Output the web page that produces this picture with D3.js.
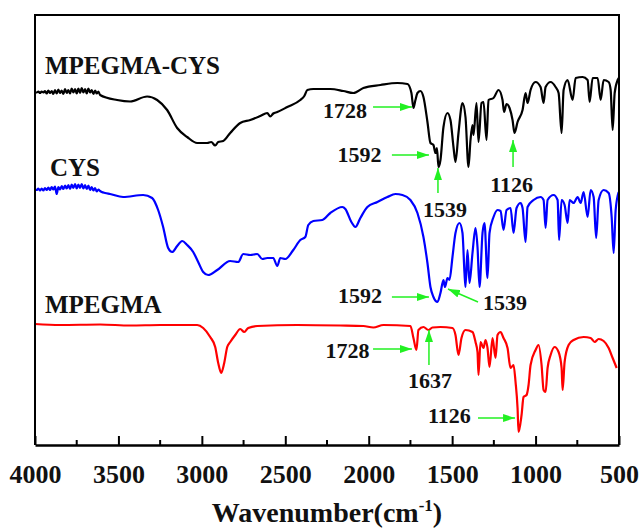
<!DOCTYPE html>
<html>
<head>
<meta charset="utf-8">
<script src="https://cdn.jsdelivr.net/npm/d3@7"></script>
<style>
  html, body { margin: 0; padding: 0; background: #fff; }
  svg { display: block; }
  text { font-family: "Liberation Serif", "Times New Roman", serif; font-weight: bold; fill: #111; }
</style>
</head>
<body>
<svg id="chart" width="640" height="528"></svg>
<script>
// FTIR spectra: wavenumber (cm-1) and transmittance (a.u., offset per trace)
const wnCysPeg = [4000,3990,3980,3970,3960,3950,3940,3930,3920,3910,3900,3890,3880,3870,3860,3850,3840,3830,3820,3810,3800,3790,3780,3770,3760,3750,3740,3730,3720,3710,3700,3690,3680,3670,3660,3650,3640,3630,3620,3610,3508,3430,3328,3268,3208,3148,3088,3028,2968,2944,2920,2902,2872,2830,2770,2710,2650,2608,2590,2572,2548,2488,2410,2386,2368,2332,2230,2152,2092,2032,1930,1828,1768,1744,1732,1720,1708,1690,1672,1648,1630,1612,1600,1591,1582,1570,1552,1528,1510,1492,1480,1462,1438,1420,1402,1390,1378,1372,1354,1342,1324,1312,1294,1282,1252,1222,1198,1189,1174,1156,1138,1126,1108,1078,1060,1048,1030,1000,970,952,940,910,880,862,844,832,808,778,760,718,688,676,658,628,610,592,562,550,538,526,508,502];
const tCysPeg = [70.5,70.5,70.7,70.4,70.7,70.5,70.8,70.3,70.9,70.4,70.8,70.2,71.0,70.3,71.1,70.4,70.9,70.2,71.2,70.4,71.0,70.3,71.3,70.5,71.2,70.3,71.3,70.4,71.4,70.5,71.2,70.3,71.3,70.5,71.0,70.2,70.9,70.3,70.7,70.0,69.0,68.7,69.7,69.0,67.0,63.4,61.6,60.4,60.4,60.6,59.9,60.6,60.8,62.4,64.4,65.0,65.8,66.4,65.7,66.3,66.6,67.6,69.0,69.8,71.0,71.2,71.2,70.8,70.4,71.4,72.0,72.4,72.2,70.4,67.4,69.0,70.4,70.8,69.6,64.6,60.4,60.0,58.4,59.4,55.6,57.0,63.6,66.4,65.0,59.6,56.6,62.4,68.4,65.6,55.6,61.0,64.0,62.0,68.4,60.6,68.4,68.6,61.0,69.0,69.4,71.0,69.0,66.6,68.2,67.4,65.0,62.4,64.6,67.0,70.4,68.4,71.0,72.6,71.6,68.4,71.6,72.6,71.6,70.4,62.4,71.0,73.0,69.0,73.4,73.6,73.0,68.6,73.4,73.4,69.0,73.0,72.6,71.0,63.0,70.4,73.0,73.4];

const wnCys = [4000,3990,3980,3970,3960,3950,3940,3930,3920,3910,3900,3890,3880,3870,3860,3850,3840,3830,3820,3810,3800,3790,3780,3770,3760,3750,3740,3730,3720,3710,3700,3690,3680,3670,3660,3650,3640,3630,3620,3610,3600,3580,3550,3472,3352,3298,3262,3232,3202,3178,3148,3118,3088,3052,3022,2992,2962,2908,2830,2782,2752,2710,2668,2638,2608,2572,2548,2530,2500,2452,2410,2380,2362,2332,2278,2230,2158,2140,2104,2080,2050,2008,1948,1888,1840,1798,1750,1708,1672,1648,1630,1612,1588,1570,1552,1543,1528,1516,1498,1480,1456,1438,1426,1420,1408,1396,1378,1360,1348,1336,1318,1306,1288,1276,1252,1228,1210,1192,1174,1150,1132,1114,1090,1078,1060,1048,1012,970,952,940,928,892,868,859,844,826,808,796,772,748,730,712,688,670,652,637,622,592,562,544,532,520,502];
const tCys = [51.0,51.0,51.3,50.9,51.3,50.9,51.4,51.0,51.5,51.0,51.6,51.1,51.7,50.2,51.6,51.1,51.8,51.2,51.9,51.3,52.0,51.2,52.1,51.4,52.2,51.3,52.1,51.4,52.2,51.3,52.0,51.2,51.9,51.0,51.6,50.9,51.4,50.7,51.1,50.8,50.6,50.4,50.2,49.6,50.0,49.4,47.0,43.6,39.4,38.6,39.8,40.8,40.0,38.6,36.6,34.6,34.0,35.0,36.8,36.6,38.2,38.0,38.2,37.2,37.4,37.4,35.8,37.4,37.2,39.0,41.0,41.6,44.0,44.8,45.0,46.4,47.6,47.2,44.6,43.6,45.4,47.6,48.6,49.6,50.2,50.0,49.0,46.4,41.6,36.4,31.6,29.6,28.6,30.4,33.0,31.6,33.4,33.0,37.6,42.4,44.4,42.4,34.4,31.6,39.0,32.4,38.4,43.4,39.6,31.6,42.4,44.4,33.4,42.4,45.6,47.0,46.8,43.0,47.0,47.4,42.4,47.4,48.4,47.4,40.6,47.6,49.0,49.6,49.0,43.4,49.0,50.0,49.0,41.0,49.0,48.0,44.4,49.0,48.4,49.6,48.4,50.6,45.6,51.0,49.6,41.4,49.0,51.0,50.4,45.6,38.4,47.0,50.6];

const wnPeg = [4000,3850,3610,3430,3250,3028,2992,2950,2920,2902,2884,2866,2848,2830,2800,2770,2746,2722,2668,2428,2170,2032,1972,1912,1750,1732,1714,1702,1672,1642,1618,1570,1498,1480,1462,1444,1420,1378,1360,1348,1342,1330,1312,1300,1288,1276,1258,1240,1228,1210,1192,1168,1150,1132,1120,1108,1102,1084,1072,1054,1042,1030,1000,982,964,952,940,928,910,886,862,844,838,826,802,772,712,670,646,622,592,562,538,514];
const tPeg = [24.2,24.0,24.1,23.9,24.0,24.0,23.4,21.6,19.6,16.4,14.4,16.4,19.6,20.6,22.0,23.2,22.6,23.4,23.8,24.0,23.9,23.8,23.5,24.0,23.8,21.4,19.0,23.0,23.6,23.0,23.5,23.6,23.4,22.0,18.0,21.4,23.0,22.6,20.6,18.6,14.0,20.6,19.4,21.0,19.4,15.6,21.4,17.4,22.0,22.6,21.4,19.4,15.4,16.0,12.6,7.4,2.6,6.0,9.6,10.0,12.0,16.0,19.0,20.0,16.0,11.0,10.6,15.4,18.0,19.6,18.6,15.4,11.0,16.6,20.0,21.0,21.6,21.4,20.6,21.2,20.8,19.4,17.4,15.4];

const seriesNames = ["MPEGMA-CYS", "CYS", "MPEGMA"];
const seriesColors = ["#000000", "#0000ff", "#ff0000"];
// label anchor (wavenumber, transmittance) for each trace name
const nameWn = [3940, 3910, 3940];
const nameT = [74.2, 53.8, 26.4];

// peak assignments: label, text position, arrow tail and arrow tip (all in data units)
const peakLabels = ["1728", "1592", "1539", "1126", "1592", "1539", "1728", "1637", "1126"];
const peakTextWn = [2142, 2055, 1543, 1144, 2052, 1183, 2127, 1633, 1516];
const peakTextT  = [65.4, 56.6, 45.6, 50.6, 28.4, 27.0, 17.4, 11.4, 4.4];
const arrowFromWn = [1974, 1861, 1585, 1135, 1861, 1345, 1974, 1639, 1345];
const arrowFromT  = [67.6, 58.0, 50.4, 55.6, 29.6, 28.6, 19.2, 16.0, 5.4];
const arrowToWn   = [1741, 1639, 1585, 1135, 1639, 1525, 1741, 1639, 1123];
const arrowToT    = [67.6, 58.0, 55.4, 61.0, 29.6, 31.2, 19.2, 23.0, 5.4];

const xTicks = [4000, 3500, 3000, 2500, 2000, 1500, 1000, 500];
const xMinorTicks = [3750, 3250, 2750, 2250, 1750, 1250, 750];

const svg = d3.select("#chart");
const margin = { left: 35, right: 21, top: 15, bottom: 83 };
const W = 640, H = 528;

const x = d3.scaleLinear().domain([4000, 500]).range([margin.left, W - margin.right]);
const y = d3.scaleLinear().domain([0, 86]).range([H - margin.bottom, margin.top]);

const series = [
  { name: seriesNames[0], wn: wnCysPeg, t: tCysPeg },
  { name: seriesNames[1], wn: wnCys, t: tCys },
  { name: seriesNames[2], wn: wnPeg, t: tPeg }
];

const line = d3.line()
  .x(d => x(d[0]))
  .y(d => y(d[1]))
  .curve(d3.curveMonotoneX);

series.forEach((s, i) => {
  const pts = s.wn.map((w, k) => [w, s.t[k]]);
  svg.append("path")
    .attr("d", line(pts))
    .attr("fill", "none")
    .attr("stroke", seriesColors[i])
    .attr("stroke-width", 2.2)
    .attr("stroke-linejoin", "round");
  svg.append("text")
    .attr("x", x(nameWn[i]))
    .attr("y", y(nameT[i]))
    .attr("font-size", 25)
    .text(s.name);
});

// arrow heads
const green = "#22f022";
svg.append("defs").append("marker")
  .attr("id", "head")
  .attr("viewBox", "0 0 12 8")
  .attr("refX", 12).attr("refY", 4)
  .attr("markerWidth", 12).attr("markerHeight", 8)
  .attr("markerUnits", "userSpaceOnUse")
  .attr("orient", "auto")
  .append("path")
  .attr("d", "M0,0 L12,4 L0,8 Z")
  .attr("fill", green);

peakLabels.forEach((lab, i) => {
  svg.append("line")
    .attr("x1", x(arrowFromWn[i])).attr("y1", y(arrowFromT[i]))
    .attr("x2", x(arrowToWn[i])).attr("y2", y(arrowToT[i]))
    .attr("stroke", green)
    .attr("stroke-width", 1.5)
    .attr("marker-end", "url(#head)");
  svg.append("text")
    .attr("x", x(peakTextWn[i]))
    .attr("y", y(peakTextT[i]))
    .attr("text-anchor", "middle")
    .attr("font-size", 22)
    .text(lab);
});

// frame
const x0 = x(4000), x1 = x(500), yTop = margin.top, yBot = H - margin.bottom;
svg.append("path")
  .attr("d", `M${x0},${yBot} L${x0},${yTop} L${x1},${yTop} L${x1},${yBot}`)
  .attr("fill", "none").attr("stroke", "#000").attr("stroke-width", 2);

// bottom axis, ticks pointing inward
const axis = d3.axisBottom(x).tickValues(xTicks).tickSizeInner(-9).tickSizeOuter(0).tickPadding(20).tickFormat(d3.format("d"));
const gAxis = svg.append("g").attr("transform", `translate(0,${yBot})`).call(axis);
gAxis.select(".domain").attr("stroke", "#000").attr("stroke-width", 2.5);
gAxis.selectAll(".tick line").attr("stroke", "#000").attr("stroke-width", 2);
gAxis.selectAll(".tick text")
  .attr("font-size", 26)
  .attr("fill", "#111");

svg.append("g").selectAll("line").data(xMinorTicks).join("line")
  .attr("x1", d => x(d)).attr("x2", d => x(d))
  .attr("y1", yBot).attr("y2", yBot - 5)
  .attr("stroke", "#000").attr("stroke-width", 2);

// axis title
const title = svg.append("text")
  .attr("x", (x0 + x1) / 2)
  .attr("y", 522)
  .attr("text-anchor", "middle")
  .attr("font-size", 28);
title.append("tspan").text("Wavenumber(cm");
title.append("tspan").attr("font-size", 17).attr("dy", -11).text("-1");
title.append("tspan").attr("dy", 11).text(")");
</script>
</body>
</html>
